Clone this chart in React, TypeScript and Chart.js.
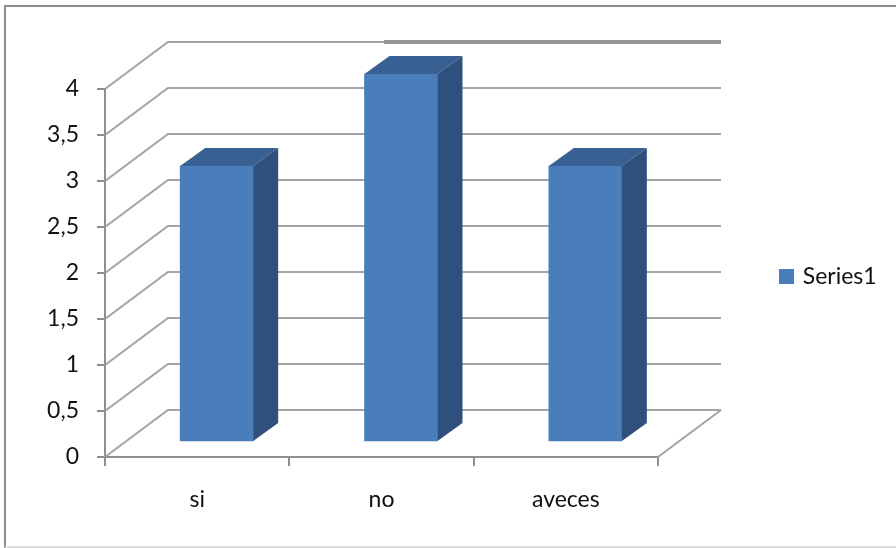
import React, { useEffect, useRef } from "react";
import { Chart, registerables } from "chart.js";

Chart.register(...registerables);

const categories = ["si", "no", "aveces"];
const seriesName = "Series1";
const seriesValues = [3, 4, 3];
const yMax = 4;
const yStep = 0.5;

const FONT = { family: "Lato, 'Open Sans', sans-serif", size: 23 };
const GRID = "#a3a3a3";
const AXIS = "#8f8f8f";
const FRONT = "#4a7ebb";
const TOP = "#386092";
const SIDE = "#2f4f7c";
// pseudo-3D projection of the plot box
const WALL = { dx: 63, dy: -47 };
const BAR_SHIFT = { dx: 19.5, dy: -15 };
const BAR_DEPTH = { dx: 25, dy: -18 };
const LEGEND_SHIFT = 3.5;

const frame3d = {
  id: "frame3d",
  afterLayout(chart: any) {
    chart.legend.top += LEGEND_SHIFT;
    chart.legend.bottom += LEGEND_SHIFT;
  },
  beforeDraw(chart: any) {
    const { ctx, width, height } = chart;
    ctx.save();
    ctx.fillStyle = "#ffffff";
    ctx.fillRect(0, 0, width, height);
    ctx.strokeStyle = "#8c8c8c";
    ctx.lineWidth = 2;
    ctx.beginPath();
    ctx.moveTo(5, height);
    ctx.lineTo(5, 6);
    ctx.lineTo(width, 6);
    ctx.stroke();
    ctx.strokeStyle = "#dcdcdc";
    ctx.beginPath();
    ctx.moveTo(5, height - 1);
    ctx.lineTo(width, height - 1);
    ctx.stroke();
    ctx.restore();
  },
  beforeDatasetsDraw(chart: any) {
    const { ctx, chartArea } = chart;
    const y = chart.scales.y;
    const { left, right, bottom } = chartArea;
    ctx.save();
    ctx.strokeStyle = GRID;
    ctx.lineWidth = 2;
    y.ticks.forEach((t: any) => {
      const py = y.getPixelForValue(t.value);
      ctx.beginPath();
      ctx.moveTo(left, py);
      ctx.lineTo(left + WALL.dx, py + WALL.dy);
      ctx.lineTo(right + WALL.dx, py + WALL.dy);
      ctx.stroke();
    });
    // floor edge on the right
    ctx.beginPath();
    ctx.moveTo(right, bottom);
    ctx.lineTo(right + WALL.dx, bottom + WALL.dy);
    ctx.stroke();
    // heavier part of the top gridline
    const topY = y.getPixelForValue(yMax) + WALL.dy;
    ctx.strokeStyle = "#969696";
    ctx.lineWidth = 4;
    ctx.beginPath();
    ctx.moveTo(384, topY);
    ctx.lineTo(right + WALL.dx, topY);
    ctx.stroke();
    ctx.restore();

    ctx.save();
    ctx.translate(BAR_SHIFT.dx, BAR_SHIFT.dy);
  },
  afterDatasetsDraw(chart: any) {
    const { ctx } = chart;
    chart.getDatasetMeta(0).data.forEach((bar: any) => {
      const { x, y, base, width } = bar.getProps(["x", "y", "base", "width"], true);
      const l = x - width / 2;
      const r = x + width / 2;
      ctx.fillStyle = TOP;
      ctx.beginPath();
      ctx.moveTo(l, y);
      ctx.lineTo(l + BAR_DEPTH.dx, y + BAR_DEPTH.dy);
      ctx.lineTo(r + BAR_DEPTH.dx, y + BAR_DEPTH.dy);
      ctx.lineTo(r, y);
      ctx.closePath();
      ctx.fill();
      ctx.fillStyle = SIDE;
      ctx.beginPath();
      ctx.moveTo(r, y);
      ctx.lineTo(r + BAR_DEPTH.dx, y + BAR_DEPTH.dy);
      ctx.lineTo(r + BAR_DEPTH.dx, base + BAR_DEPTH.dy);
      ctx.lineTo(r, base);
      ctx.closePath();
      ctx.fill();
    });
    ctx.restore();
  },
};

export default function App() {
  const ref = useRef<HTMLCanvasElement>(null);
  useEffect(() => {
    // legend swatch as a small image, so the label can sit closer to it
    const swatch = document.createElement("canvas");
    swatch.width = 15;
    swatch.height = 15;
    const sctx = swatch.getContext("2d") as CanvasRenderingContext2D;
    sctx.fillStyle = FRONT;
    sctx.fillRect(0, 0, 15, 15);

    const chart = new Chart(ref.current as HTMLCanvasElement, {
      type: "bar",
      plugins: [frame3d],
      data: {
        labels: categories,
        datasets: [
          {
            label: seriesName,
            data: seriesValues,
            backgroundColor: FRONT,
            barThickness: 73,
            clip: false,
          } as any,
        ],
      },
      options: {
        animation: false,
        responsive: false,
        layout: { padding: { top: 89, bottom: 0, left: 0, right: 18.67 } },
        plugins: {
          title: { display: false },
          tooltip: { enabled: false },
          legend: {
            position: "right",
            fullSize: false,
            labels: {
              usePointStyle: true,
              pointStyle: swatch,
              pointStyleWidth: 9.5,
              boxHeight: 15,
              padding: 123.75,
              color: "#111111",
              font: FONT,
            },
          } as any,
        },
        scales: {
          x: {
            afterFit(s: any) {
              s.height = 91;
            },
            border: { color: AXIS, width: 2 },
            grid: { drawOnChartArea: false, color: AXIS, lineWidth: 2, tickLength: 9 },
            ticks: {
              color: "#111111",
              font: FONT,
              padding: 20,
              maxRotation: 0,
              minRotation: 0,
              autoSkip: false,
            },
          },
          y: {
            min: 0,
            max: yMax,
            afterFit(s: any) {
              s.width = 105;
            },
            border: { color: AXIS, width: 2 },
            grid: { drawOnChartArea: false, color: AXIS, lineWidth: 2, tickLength: 8 },
            ticks: {
              stepSize: yStep,
              color: "#111111",
              font: FONT,
              padding: 18,
              callback: (v: any) => String(v).replace(".", ","),
            },
          },
        },
      },
    });
    return () => chart.destroy();
  }, []);
  return (
    <div style={{ position: "absolute", left: 0, top: 0, width: 896, height: 548 }}>
      <canvas ref={ref} width={896} height={548} style={{ display: "block" }} />
    </div>
  );
}
